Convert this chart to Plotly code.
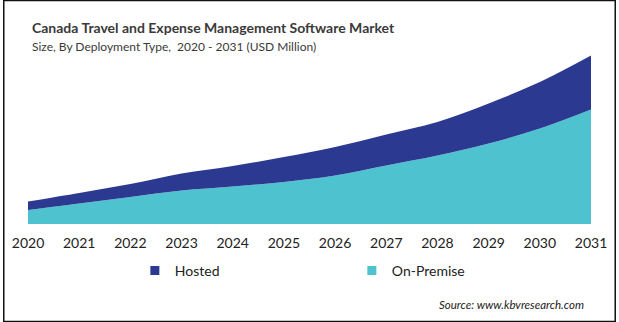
import plotly.graph_objects as go

years = [2020, 2021, 2022, 2023, 2024, 2025, 2026, 2027, 2028, 2029, 2030, 2031]
on_premise = [14, 20.5, 27, 33.5, 37.5, 42, 48.5, 58.5, 68.5, 80.5, 95.5, 114.5]
hosted = [8.5, 10.5, 13, 17, 20.5, 25, 28.5, 31, 33.5, 40, 46.5, 54]
series_names = ["Hosted", "On-Premise"]
colors = {"Hosted": "#2B3990", "On-Premise": "#4EC3CF"}

W, H = 619, 322
ml, mr, mt, mb = 25, 25, 40, 98

fig = go.Figure()
fig.add_trace(go.Scatter(x=years, y=on_premise, name="On-Premise", stackgroup="one",
                         mode="none", fillcolor=colors["On-Premise"], line_shape="spline",
                         showlegend=False))
fig.add_trace(go.Scatter(x=years, y=hosted, name="Hosted", stackgroup="one",
                         mode="none", fillcolor=colors["Hosted"], line_shape="spline",
                         showlegend=False))
for nm in series_names:
    fig.add_trace(go.Scatter(x=[None], y=[None], name=nm, mode="markers",
                             marker=dict(symbol="square", size=9, color=colors[nm]),
                             showlegend=True))

pw = W - ml - mr
ph = H - mt - mb

fig.update_layout(
    width=W, height=H,
    margin=dict(l=ml, r=mr, t=mt, b=mb),
    paper_bgcolor="white", plot_bgcolor="white",
    font=dict(family="Lato", color="#333333"),
    xaxis=dict(range=[2020, 2031], tickmode="array", tickvals=years,
               ticktext=[str(y) for y in years], showgrid=False, zeroline=False,
               showline=False, ticks="outside", ticklen=6, tickcolor="rgba(0,0,0,0)",
               tickfont=dict(size=14, color="#222222", family="Lato")),
    yaxis=dict(range=[0, ph], visible=False, showgrid=False),
    legend=dict(orientation="h", x=(133 - ml) / pw, y=-(271 - (mt + ph)) / ph, yanchor="middle",
                xanchor="left", entrywidth=172, entrywidthmode="pixels",
                traceorder="normal",
                itemwidth=30, font=dict(size=14, color="#222222", family="Lato"),
                bgcolor="rgba(0,0,0,0)"),
    showlegend=True,
)

fig.add_annotation(text="<b>Canada Travel and Expense Management Software Market</b>",
                   xref="paper", yref="paper", x=(27 - ml) / pw, y=(H - mb - 27) / ph,
                   xanchor="left", yanchor="middle", showarrow=False,
                   font=dict(size=14, color="#3A3A3A", family="Lato"))
fig.add_annotation(text="Size, By Deployment Type,  2020 - 2031 (USD Million)",
                   xref="paper", yref="paper", x=(27 - ml) / pw, y=(H - mb - 46) / ph,
                   xanchor="left", yanchor="middle", showarrow=False,
                   font=dict(size=12, color="#3A3A3A", family="Lato"))
fig.add_annotation(text="<i>Source: www.kbvresearch.com</i>",
                   xref="paper", yref="paper", x=(589 - ml) / pw, y=(H - mb - 304) / ph,
                   xanchor="right", yanchor="middle", showarrow=False,
                   font=dict(size=11.5, color="#222222", family="Lato"))

# outer frame
fig.add_shape(type="rect", xref="paper", yref="paper",
              x0=(0.5 - ml) / pw, x1=(W - 0.5 - ml) / pw,
              y0=-(mb - 0.5) / ph, y1=(H - mb - 0.5) / ph,
              line=dict(color="#111111", width=1.5), fillcolor="rgba(0,0,0,0)")

fig.write_html("out.html")
